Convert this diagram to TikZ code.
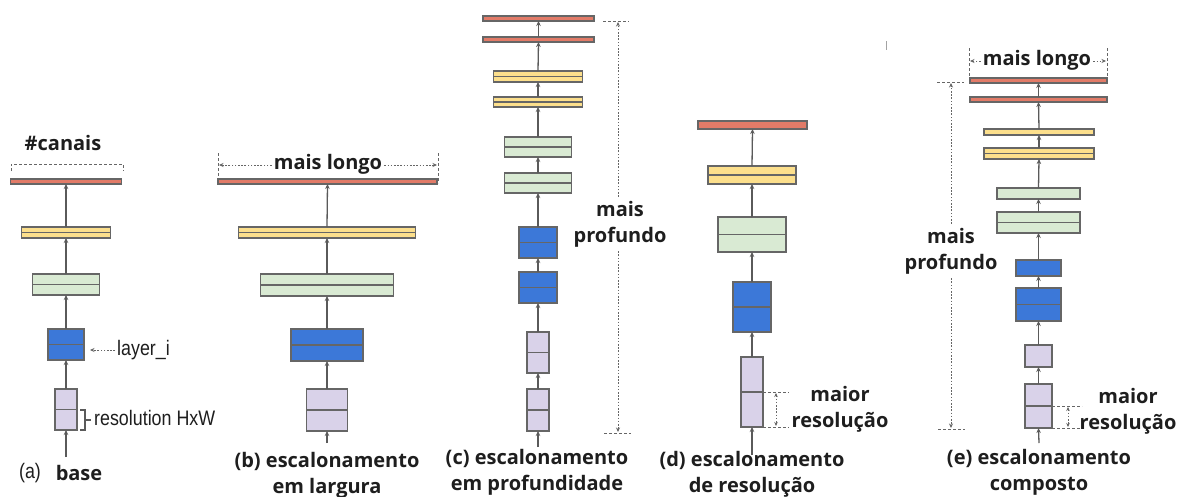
\documentclass[tikz,border=0pt]{standalone}
\usepackage{fontspec}
\usepackage{graphicx}
\usetikzlibrary{arrows.meta,calc}
\setmainfont{Open Sans}
\newfontfamily\arialab[FakeStretch=0.85]{Liberation Sans}

\definecolor{redfill}{HTML}{E27B68}
\definecolor{yelfill}{HTML}{FCDF8C}
\definecolor{grnfill}{HTML}{D9EAD3}
\definecolor{blufill}{HTML}{3C78D8}
\definecolor{purfill}{HTML}{D9D2E9}
\definecolor{edgegray}{HTML}{666666}
\definecolor{linegray}{HTML}{5A5A5A}
\definecolor{guidegray}{HTML}{666666}
\definecolor{inkblack}{HTML}{1E1E1E}

\tikzset{
  blk/.style={draw=edgegray, line width=1.4pt, inner sep=0pt, outer sep=0pt},
  midline/.style={draw=edgegray, line width=1.4pt},
  conn/.style={draw=linegray, line width=1.3pt, -{Stealth[length=5pt,width=4.5pt]}},
  guide/.style={draw=guidegray, line width=1pt, dash pattern=on 3pt off 2pt},
  dimline/.style={draw=guidegray, line width=1pt, dash pattern=on 1.6pt off 1.6pt},
  dimtip/.style={-{Stealth[length=4.5pt,width=4pt]}},
  dimtips/.style={{Stealth[length=4pt,width=3.5pt]}-{Stealth[length=4pt,width=3.5pt]}},
  lab/.style={font=\bfseries\fontsize{20}{26}\selectfont, align=center, inner sep=2pt, text=inkblack},
  plain/.style={font=\arialab\fontsize{21}{25}\selectfont, inner sep=0pt, text=inkblack},
}

% block: name, centre x, top y, bottom y, width, fill
\newcommand\blk[6]{%
  \node[blk, fill=#6, minimum width=#5pt, minimum height={#4-#3}] (#1) at (#2,{(#3+#4)/2}) {};}
% block split by a horizontal middle line
\newcommand\blkm[6]{%
  \blk{#1}{#2}{#3}{#4}{#5}{#6}\draw[midline] (#1.west) -- (#1.east);}

\begin{document}
\begin{tikzpicture}[x=1pt,y=-1pt]
\useasboundingbox (0,0) rectangle (1178,496);
\fill[white] (0,0) rectangle (1178,496);

% ---------------- (a) base ----------------
\blkm{a1}{66}{389}{430}{22}{purfill}
\blkm{a2}{66}{329}{360}{36}{blufill}
\blkm{a3}{66}{274}{295}{67}{grnfill}
\blkm{a4}{66}{227}{238}{89}{yelfill}
\blk{a5}{66}{179}{184}{111}{redfill}
\coordinate (a0) at (66,457);
\draw[conn] (a0) -- (a1.south);
\draw[conn] (a1.north) -- (a2.south);
\draw[conn] (a2.north) -- (a3.south);
\draw[conn] (a3.north) -- (a4.south);
\draw[conn] (a4.north) -- (a5.south);

\node[lab] (canais) at (63,143) {\#canais};
\draw[guide] (11,171) -- (11,164) -- (123,164) -- (123,171);

\node[plain, anchor=west] (layerlab) at (117,350) {layer\_i};
\coordinate (layertip) at (90,350);
\draw[dimline, dimtip] ([xshift=-2pt]layerlab.west) -- (layertip);

\draw[draw=linegray, line width=1.1pt] (80,410) -- (85,410) -- (85,430) -- (80,430);
\coordinate (braceend) at (91,420);
\draw[draw=linegray, line width=1.1pt] (85,420) -- (braceend);
\node[plain, anchor=west] (reslab) at (94,418) {resolution HxW};

\node[plain] (alab) at (30,473) {(a)};
\node[lab] (abase) at (79,473) {base};

% ---------------- (b) width scaling ----------------
\blkm{b1}{327}{389}{431}{41}{purfill}
\blkm{b2}{327}{329}{361}{72}{blufill}
\blkm{b3}{327}{274}{296}{133}{grnfill}
\blkm{b4}{327}{227}{238}{177}{yelfill}
\blk{b5}{327.5}{179}{184}{219}{redfill}
\coordinate (b0) at (327,443);
\draw[conn] (b0) -- (b1.south);
\draw[conn] (b1.north) -- (b2.south);
\draw[conn] (b2.north) -- (b3.south);
\draw[conn] (b3.north) -- (b4.south);
\draw[conn] (b4.north) -- (b5.south);

\draw[guide] (218,153) -- (218,183);
\draw[guide] (438,153) -- (438,183);
\node[lab] (blong) at (328,164) {mais longo};
\coordinate (bl) at (219,165);
\coordinate (br) at (437,165);
\draw[dimline, dimtip] (blong.west |- bl) -- (bl);
\draw[dimline, dimtip] (blong.east |- br) -- (br);

\node[lab] (bcap) at (327,475) {(b) escalonamento\\em largura};

% ---------------- (c) depth scaling ----------------
\blkm{c1}{538}{389}{431}{22}{purfill}
\blkm{c2}{538}{332}{373}{22}{purfill}
\blkm{c3}{538}{272}{303}{38}{blufill}
\blkm{c4}{538}{227}{258}{38}{blufill}
\blkm{c5}{538}{173}{193}{67}{grnfill}
\blkm{c6}{538}{137}{157}{67}{grnfill}
\blkm{c7}{538}{97}{107}{89}{yelfill}
\blkm{c8}{538}{71}{82}{89}{yelfill}
\blk{c9}{538.5}{37}{42}{111}{redfill}
\blk{c10}{538.5}{16}{21}{111}{redfill}
\coordinate (c0) at (538,447);
\draw[conn] (c0) -- (c1.south);
\draw[conn] (c1.north) -- (c2.south);
\draw[conn] (c2.north) -- (c3.south);
\draw[conn] (c3.north) -- (c4.south);
\draw[conn] (c4.north) -- (c5.south);
\draw[conn] (c5.north) -- (c6.south);
\draw[conn] (c6.north) -- (c7.south);
\draw[conn] (c7.north) -- (c8.south);
\draw[conn] (c8.north) -- (c9.south);
\draw[conn] (c9.north) -- (c10.south);

\node[lab, inner sep=4pt] (cdeep) at (620,224) {mais\\profundo};
\coordinate (ctop) at (618,22);
\coordinate (cbot) at (618,432);
\draw[dimline, dimtip] (ctop |- cdeep.north) -- (ctop);
\draw[dimline, dimtip] (cbot |- cdeep.south) -- (cbot);
\draw[guide] (603,21) -- (629,21);
\draw[guide] (604,433) -- (631,433);

\node[lab] (ccap) at (537,472) {(c) escalonamento\\em profundidade};

% ---------------- (d) resolution scaling ----------------
\blkm{d1}{752}{357}{427}{22}{purfill}
\blkm{d2}{752}{282}{332}{38}{blufill}
\blkm{d3}{752}{217}{252}{68}{grnfill}
\blkm{d4}{752}{166}{184}{88}{yelfill}
\blk{d5}{752.5}{121}{129}{109}{redfill}
\coordinate (d0) at (752,455);
\draw[conn] (d0) -- (d1.south);
\draw[conn] (d1.north) -- (d2.south);
\draw[conn] (d2.north) -- (d3.south);
\draw[conn] (d3.north) -- (d4.south);
\draw[conn] (d4.north) -- (d5.south);

\draw[guide] (d1.east) -- ++(26,0);
\draw[guide] (d1.south east) -- ++(26,0);
\coordinate (dresa) at (776,393);
\coordinate (dresb) at (776,426);
\draw[dimline, dimtips] (dresa) -- (dresb);
\node[lab] (dres) at (840,409) {maior\\resolução};

\node[lab] (dcap) at (752,474) {(d) escalonamento\\de resolução};

% ---------------- (e) compound scaling ----------------
\blkm{e1}{1038.5}{384}{428}{27}{purfill}
\blk{e2}{1038.5}{345}{367}{27}{purfill}
\blkm{e3}{1038.5}{288}{321}{45}{blufill}
\blk{e4}{1038.5}{260}{276}{45}{blufill}
\blkm{e5}{1038.5}{212}{233}{83}{grnfill}
\blk{e6}{1038.5}{188}{199}{83}{grnfill}
\blkm{e7}{1039}{148}{159}{110}{yelfill}
\blk{e8}{1039}{129}{135}{110}{yelfill}
\blk{e9}{1038.5}{97}{102}{137}{redfill}
\blk{e10}{1038.5}{78}{83}{137}{redfill}
\coordinate (e0) at (1039,443);
\draw[conn] (e0) -- (e1.south);
\draw[conn] (e1.north) -- (e2.south);
\draw[conn] (e2.north) -- (e3.south);
\draw[conn] (e3.north) -- (e4.south);
\draw[conn] (e4.north) -- (e5.south);
\draw[conn] (e5.north) -- (e6.south);
\draw[conn] (e6.north) -- (e7.south);
\draw[conn] (e7.north) -- (e8.south);
\draw[conn] (e8.north) -- (e9.south);
\draw[conn] (e9.north) -- (e10.south);

\draw[guide] (969,48) -- (969,82);
\draw[guide] (1107,48) -- (1107,82);
\node[lab] (elong) at (1037,60) {mais longo};
\coordinate (el) at (970,61);
\coordinate (er) at (1106,61);
\draw[dimline, dimtip] (elong.west |- el) -- (el);
\draw[dimline, dimtip] (elong.east |- er) -- (er);

\node[lab, inner sep=4pt] (edeep) at (951,251) {mais\\profundo};
\coordinate (etop) at (951,83);
\coordinate (ebot) at (951,428);
\draw[dimline, dimtip] (etop |- edeep.north) -- (etop);
\draw[dimline, dimtip] (ebot |- edeep.south) -- (ebot);
\draw[guide] (937,82) -- (964,82);
\draw[guide] (938,429) -- (965,429);

\draw[guide] (e1.east) -- ++(30,0);
\draw[guide] (e1.south east) -- ++(30,0);
\coordinate (eresa) at (1068,407);
\coordinate (eresb) at (1068,427);
\draw[dimline, dimtips] (eresa) -- (eresb);
\node[lab] (eres) at (1128,411) {maior\\resolução};

\node[lab] (ecap) at (1039,472) {(e) escalonamento\\composto};

% small stray tick at the top
\draw[draw=guidegray!60, line width=1pt] (886,41) -- (886,50);
\end{tikzpicture}
\end{document}
